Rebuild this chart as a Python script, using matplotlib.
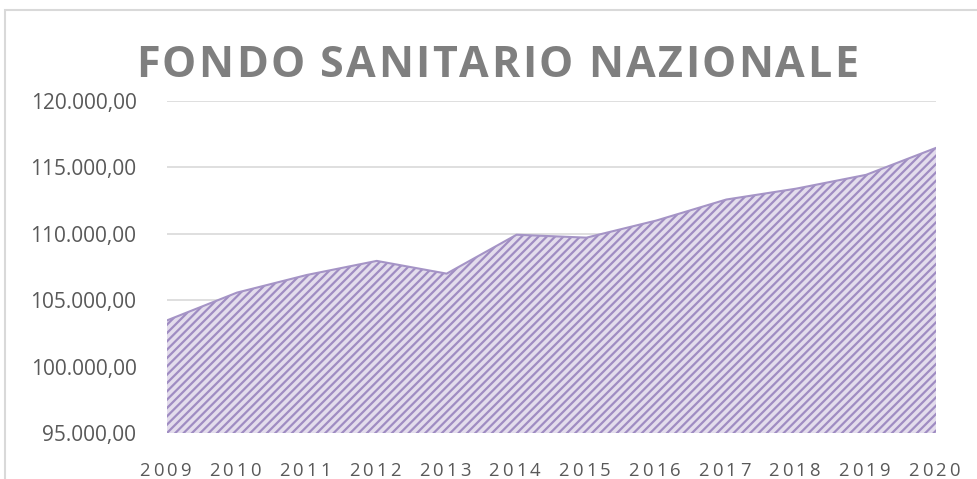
import matplotlib
matplotlib.use("Agg")
import matplotlib.pyplot as plt
from matplotlib.patches import Rectangle
from matplotlib.font_manager import FontProperties
from matplotlib.ticker import FuncFormatter

# Fondo sanitario nazionale (milioni di euro)
years = [2009, 2010, 2011, 2012, 2013, 2014, 2015, 2016, 2017, 2018, 2019, 2020]
fondo = [103480, 105570, 106900, 107960, 107000, 109930, 109710, 111000,
         112580, 113400, 114440, 116470]
y_ticks = [95000, 100000, 105000, 110000, 115000, 120000]

title = "FONDO SANITARIO NAZIONALE"

W, H = 977, 479
plt.rcParams['font.family'] = ['Open Sans', 'DejaVu Sans']
plt.rcParams['hatch.linewidth'] = 1.6
plt.rcParams['hatch.color'] = '#9f8cc2'

fig = plt.figure(figsize=(W / 100, H / 100), dpi=100)
fig.patch.set_facecolor('white')
renderer = fig.canvas.get_renderer()


def char_widths(s, prop):
    # advance of every character in pixels, spaces measured between two letters
    out = []
    for c in s:
        if c == ' ':
            a = renderer.get_text_width_height_descent("aa", prop, ismath=False)[0]
            b = renderer.get_text_width_height_descent("a a", prop, ismath=False)[0]
            out.append(b - a)
        else:
            out.append(renderer.get_text_width_height_descent(c, prop, ismath=False)[0])
    return out


def spaced_text(xc, y_base, s, spacing=None, total=None, **kw):
    """Letter-spaced text centred on xc (pixels from left), baseline at y_base (pixels from top)."""
    prop = FontProperties(family=plt.rcParams['font.family'],
                          size=kw.get('fontsize', 10), weight=kw.get('fontweight', 'normal'))
    ws = char_widths(s, prop)
    if total is not None:
        spacing = (total - sum(ws)) / (len(s) - 1)
    full = sum(ws) + spacing * (len(s) - 1)
    x = xc - full / 2
    for c, w in zip(s, ws):
        if c != ' ':
            fig.text(x / W, 1 - y_base / H, c, ha='left', va='baseline', **kw)
        x += w + spacing


# outer chart frame (cut off on the right and bottom in the reference)
fig.patches.append(Rectangle((5 / W, -0.1), 1.2, (H - 10) / H + 0.1,
                             transform=fig.transFigure, fill=False,
                             edgecolor='#d9d9d9', linewidth=1.5))

ax = fig.add_axes([167 / W, (H - 433) / H, 769 / W, 332 / H])

ax.fill_between(years, fondo, y_ticks[0], facecolor='#e3dcec',
                edgecolor='#9f8cc2', hatch='////', linewidth=0, zorder=2)
ax.plot(years, fondo, color='#a594c6', linewidth=1.5, zorder=3)

ax.set_xlim(years[0], years[-1])
ax.set_ylim(y_ticks[0], y_ticks[-1])
ax.set_yticks(y_ticks)
ax.set_xticks(years)
ax.set_xticklabels([])
ax.yaxis.set_major_formatter(FuncFormatter(
    lambda v, p: f"{v:,.2f}".replace(",", "X").replace(".", ",").replace("X", ".")))

ax.grid(axis='y', color='#d9d9d9', linewidth=1.2, zorder=0)
for s in ax.spines.values():
    s.set_visible(False)
ax.tick_params(length=0, colors='#595959')
ax.tick_params(axis='y', labelsize=15, pad=22)

# year labels, letter-spaced like the original
for yr in years:
    px = ax.transData.transform((yr, y_ticks[0]))[0]
    spaced_text(px - 2, 476, str(yr), spacing=3.2, fontsize=13.3, color='#595959')

spaced_text(497, 77, title, total=722, fontsize=31, fontweight='bold', color='#7f7f7f')

fig.savefig("out.png", dpi=100)
